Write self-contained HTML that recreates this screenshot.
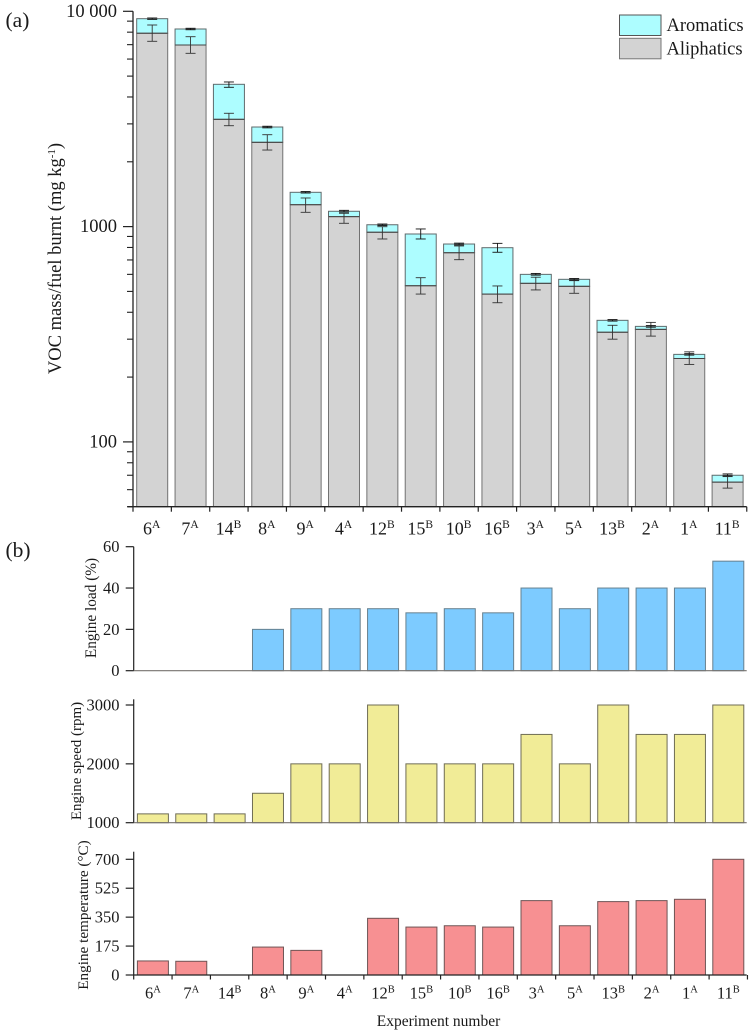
<!DOCTYPE html>
<html lang="en">
<head>
<meta charset="utf-8">
<title>VOC mass per fuel burnt</title>
<style>
html,body{margin:0;padding:0;background:#fff;}
svg{display:block;font-family:"Liberation Serif","DejaVu Serif",serif;fill:#1a1a1a;filter:blur(0.3px);}
</style>
</head>
<body>
<svg id="chart" xmlns="http://www.w3.org/2000/svg" width="754" height="1031" viewBox="0 0 754 1031">
  <rect x="0" y="0" width="754" height="1031" fill="#ffffff"/>
  <text x="5.5" y="27" font-size="21.5">(a)</text>
  <text x="5.5" y="557" font-size="21.5">(b)</text>
  <text transform="translate(61,258.5) rotate(-90)" text-anchor="middle" font-size="18.5">VOC mass/fuel burnt (mg kg<tspan dy="-6" font-size="11">-1</tspan><tspan dy="6">)</tspan></text>
  <text transform="translate(96,608) rotate(-90)" text-anchor="middle" font-size="15.3">Engine load (%)</text>
  <text transform="translate(81,761) rotate(-90)" text-anchor="middle" font-size="15">Engine speed (rpm)</text>
  <text transform="translate(88,915) rotate(-90)" text-anchor="middle" font-size="15.2">Engine temperature (°C)</text>
  <text x="438.5" y="1026" text-anchor="middle" font-size="15.5">Experiment number</text>
  <g>
    <rect x="619.5" y="15" width="41.5" height="20.5" fill="#adfdff" stroke="#555" stroke-width="1"/>
    <rect x="619.5" y="38.3" width="41.5" height="20.5" fill="#d3d3d3" stroke="#777" stroke-width="1"/>
    <text x="666.5" y="31" font-size="18.5">Aromatics</text>
    <text x="666.5" y="54.3" font-size="18.5">Aliphatics</text>
  </g>
  <g id="panelA"></g>
  <g id="panelLoad"></g>
  <g id="panelSpeed"></g>
  <g id="panelTemp"></g>
</svg>
<script>
const categories = ["6","7","14","8","9","4","12","15","10","16","3","5","13","2","1","11"];
const superscripts = ["A","A","B","A","A","A","B","B","B","B","A","A","B","A","A","B"];
const aliphatics = [7905,6973,3150,2463,1264,1112,941,531,756,486,545,528,323,333,244,65];
const aromatics = [1335,1303,1430,438,179,66,79,393,74,312,55,41,44,11,11,5];
const aliphaticErrUp = [732,648,210,209,94,41,58,48,57,44,37,33,25,26,18,4];
const aliphaticErrDown = [650,593,208,195,99,76,65,45,54,43,37,38,23,23,15,4];
const totalErrUp = [70,64,116,24,12,12,8,51,8,38,6,5,3,3,2,1];
const totalErrDown = [70,66,144,26,11,10,8,48,8,38,5,4,3,3,2,0.5];
const engineLoad = [0,0,0,20,30,30,30,28,30,28,40,30,40,40,40,53];
const engineSpeed = [1150,1150,1150,1500,2000,2000,3000,2000,2000,2000,2500,2000,3000,2500,2500,3000];
const engineTemp = [85,83,0,169,149,0,343,290,298,290,450,298,444,450,458,700];
const vocMajorTicks = [10000,1000,100];
const vocMajorLabels = ["10 000","1000","100"];
const vocMinorTicks = [9000,8000,7000,6000,5000,4000,3000,2000,900,800,700,600,500,400,300,200,90,80,70,60,50];
const loadTicks = [0,20,40,60];
const speedTicks = [1000,2000,3000];
const tempTicks = [0,175,350,525,700];

const NS = "http://www.w3.org/2000/svg";
const STEP = 38.36, BAR_W = 31, AXIS_END = 746.7;
const barCount = categories.length;

function make(parent, tag, attrs, text) {
  const el = document.createElementNS(NS, tag);
  for (const k in attrs) el.setAttribute(k, attrs[k]);
  if (text !== undefined) el.textContent = text;
  parent.appendChild(el);
  return el;
}
function logY(v) { return 11.3 + (4 - Math.log10(v)) * 215.3; }
function linY(y0, pxPerUnit, base) { return v => y0 - (v - base) * pxPerUnit; }
function catLeft(x0, i) { return x0 + STEP * i; }
function barLeft(x0, i) { return x0 + 3.7 + STEP * i; }
function barMid(x0, i) { return barLeft(x0, i) + BAR_W / 2; }

function drawCategoryLabels(parent, x0, baseline, size, supSize, supRise) {
  categories.forEach((c, i) => {
    const t = make(parent, "text", {x: barMid(x0, i) - 0.5, y: baseline, "text-anchor": "middle", "font-size": size});
    
    
    t.appendChild(document.createTextNode(c));
    const s = make(t, "tspan", {dy: -supRise, "font-size": supSize}, superscripts[i]);
    
    
  });
}
function drawCategoryTicks(parent, x0, y, len) {
  for (let i = 0; i <= barCount; i++) {
    const l = make(parent, "line", {x1: catLeft(x0, i), x2: catLeft(x0, i), y1: y, y2: y + len, stroke: "#222", "stroke-width": 1.2});
    
    
  }
}
function drawErrorBar(parent, cx, top, bottom, color) {
  const parts = [[cx, top, cx, bottom], [cx - 5, top, cx + 5, top], [cx - 5, bottom, cx + 5, bottom]];
  parts.forEach(p => {
    const l = make(parent, "line", {x1: p[0], y1: p[1], x2: p[2], y2: p[3], stroke: color, "stroke-width": 0.9});
    
    
  });
}

/* Panel (a): stacked log-scale bars */
(function () {
  const g = document.getElementById("panelA");
  const x0 = 133, bottom = logY(50);
  categories.forEach((c, i) => {
    const left = barLeft(x0, i);
    const total = aliphatics[i] + aromatics[i];
    const aro = make(g, "rect", {x: left, y: logY(total), width: BAR_W, height: logY(aliphatics[i]) - logY(total), fill: "#adfdff", stroke: "#5f6a6c", "stroke-width": 1});
    
    
    const ali = make(g, "rect", {x: left, y: logY(aliphatics[i]), width: BAR_W, height: bottom - logY(aliphatics[i]), fill: "#d3d3d3", stroke: "#727272", "stroke-width": 1});
    
    
    const cut = make(g, "line", {x1: left, x2: left + BAR_W, y1: logY(aliphatics[i]), y2: logY(aliphatics[i]), stroke: "#444", "stroke-width": 1});
    
    
  });
  categories.forEach((c, i) => {
    const cx = barMid(x0, i);
    const total = aliphatics[i] + aromatics[i];
    drawErrorBar(g, cx, logY(aliphatics[i] + aliphaticErrUp[i]), logY(aliphatics[i] - aliphaticErrDown[i]), "#333");
    drawErrorBar(g, cx, logY(total + totalErrUp[i]), logY(total - totalErrDown[i]), "#111");
  });
  const yAxis = make(g, "line", {x1: x0, x2: x0, y1: logY(10000), y2: bottom, stroke: "#222", "stroke-width": 1.3});
  
  
  const xAxis = make(g, "line", {x1: x0 - 5.5, x2: AXIS_END, y1: bottom, y2: bottom, stroke: "#222", "stroke-width": 1.3});
  
  
  vocMinorTicks.forEach(v => {
    const l = make(g, "line", {x1: x0 - 6, x2: x0, y1: logY(v), y2: logY(v), stroke: "#222", "stroke-width": 1.1});
    
    
  });
  vocMajorTicks.forEach((v, i) => {
    const l = make(g, "line", {x1: x0 - 10, x2: x0, y1: logY(v), y2: logY(v), stroke: "#222", "stroke-width": 1.2});
    
    
    const t = make(g, "text", {x: 117, y: logY(v) + 5.5, "text-anchor": "end", "font-size": 18.5}, vocMajorLabels[i]);
    
    
  });
  drawCategoryTicks(g, x0, bottom, 5);
  drawCategoryLabels(g, x0, 534.5, 18, 11.5, 6.5);
})();

/* Panels (b): linear bars */
function drawLinearPanel(id, values, ticks, y, axisTop, fill, stroke, baseColor) {
  const g = document.getElementById(id);
  const x0 = 133.7;
  const base = y(ticks[0]);
  values.forEach((v, i) => {
    if (y(v) >= base) return;
    const r = make(g, "rect", {x: barLeft(x0, i), y: y(v), width: BAR_W, height: base - y(v), fill: fill, stroke: stroke, "stroke-width": 1});
    
    
  });
  const yAxis = make(g, "line", {x1: x0, x2: x0, y1: axisTop, y2: base, stroke: "#222", "stroke-width": 1.2});
  
  
  const xAxis = make(g, "line", {x1: x0, x2: AXIS_END, y1: base, y2: base, stroke: baseColor, "stroke-width": 1.2});
  
  
  ticks.forEach(v => {
    const l = make(g, "line", {x1: x0 - 8, x2: x0, y1: y(v), y2: y(v), stroke: "#222", "stroke-width": 1.2});
    
    
    const t = make(g, "text", {x: 119.5, y: y(v) + 5.5, "text-anchor": "end", "font-size": 16.5}, String(v));
    
    
  });
  return g;
}
drawLinearPanel("panelLoad", engineLoad, loadTicks, linY(670.7, 124 / 60, 0), 546.7, "#7dcbff", "#66808f", "#77736f");
drawLinearPanel("panelSpeed", engineSpeed, speedTicks, linY(822.7, 117.7 / 2000, 1000), 699.3, "#f1ec97", "#6f6d55", "#77736f");
const tempGroup = drawLinearPanel("panelTemp", engineTemp, tempTicks, linY(975, 115.7 / 700, 0), 851.7, "#f79092", "#6e5455", "#222");
drawCategoryTicks(tempGroup, 133.7, 975, 4.5);
drawCategoryLabels(tempGroup, 134.2, 998.5, 16.5, 10.5, 6);
</script>
</body>
</html>
